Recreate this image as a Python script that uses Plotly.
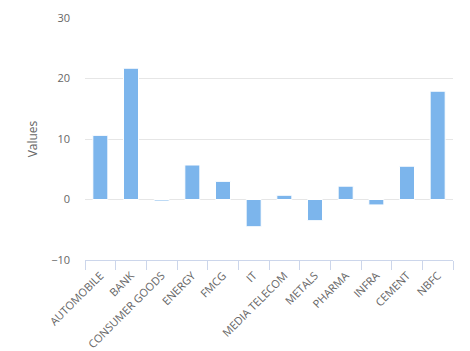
import plotly.graph_objects as go

categories = ["AUTOMOBILE", "BANK", "CONSUMER GOODS", "ENERGY", "FMCG", "IT",
              "MEDIA TELECOM", "METALS", "PHARMA", "INFRA", "CEMENT", "NBFC"]
values = [10.6, 21.7, -0.25, 5.7, 3.0, -4.5, 0.7, -3.5, 2.2, -0.9, 5.5, 17.9]
y_ticks = [-10, 0, 10, 20, 30]

fig = go.Figure(go.Bar(
    x=categories, y=values,
    marker=dict(color="#7cb5ec", line=dict(color="#ffffff", width=1)),
    hoverinfo="x+y",
))

font = "Open Sans, DejaVu Sans, sans-serif"
fig.update_layout(
    width=470, height=351,
    margin=dict(l=85, r=17, t=18, b=91),
    paper_bgcolor="white", plot_bgcolor="white",
    bargap=0.51,
    showlegend=False,
    font=dict(family=font, size=11, color="#666666"),
)
fig.update_xaxes(
    type="category",
    tickangle=-45,
    tickson="boundaries",
    ticks="outside", ticklen=9, tickcolor="#ccd6eb", tickwidth=1,
    showline=True, linecolor="#ccd6eb", linewidth=1,
    showgrid=False,
    automargin=False,
    ticklabelstandoff=4,
    tickfont=dict(size=11, color="#666666"),
)
fig.update_yaxes(
    range=[-10, 30], tickvals=y_ticks,
    showgrid=True, gridcolor="#e6e6e6", gridwidth=1,
    zeroline=False, showline=False,
    automargin=False,
    ticklabelstandoff=14,
    tickfont=dict(size=11, color="#666666"),
    title=dict(text="Values", font=dict(size=12, color="#666666"), standoff=10),
)

fig.write_html("out.html")
